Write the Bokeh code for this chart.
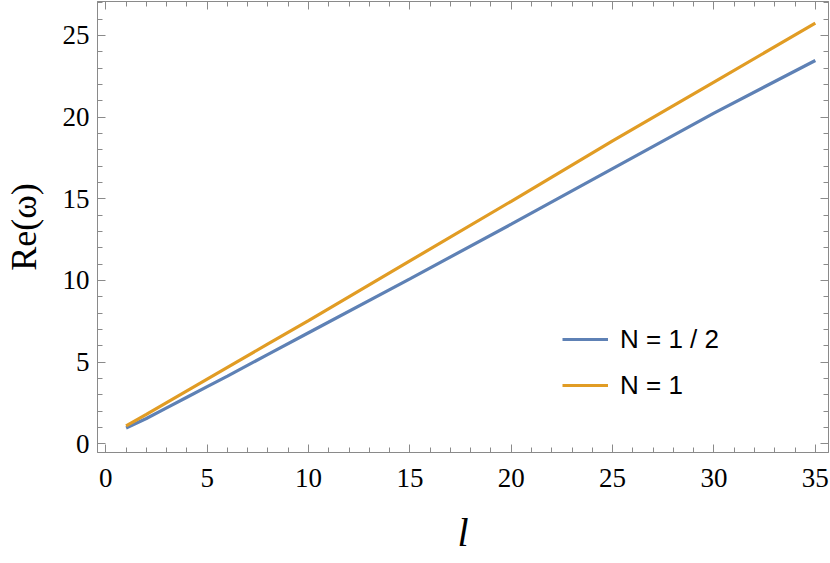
from bokeh.plotting import figure
from bokeh.models import (LinearAxis, SingleIntervalTicker, Range1d, Legend, LegendItem,
                          CustomJSTickFormatter)
from bokeh.embed import file_html
from bokeh.resources import INLINE

# data
l_vals = [1, 2, 3, 4, 5, 6, 8, 10, 15, 20, 25, 30, 35]
re_half = [0.97, 1.55, 2.20, 2.85, 3.50, 4.15, 5.48, 6.80, 10.10, 13.45, 16.85, 20.25, 23.47]
re_one = [1.10, 1.80, 2.52, 3.24, 3.96, 4.68, 6.12, 7.55, 11.20, 14.85, 18.55, 22.15, 25.75]
labels = ["N = 1 / 2", "N = 1"]
colors = ["#5E81B5", "#E19C24"]

FRAME = "#8a8a8a"
SERIF = "'Liberation Serif', 'Times New Roman', Times, serif"

p = figure(width=830, height=563, output_backend="svg", toolbar_location=None,
           x_range=Range1d(-0.41, 35.65), y_range=Range1d(-0.53, 27.08),
           x_axis_location=None, y_axis_location=None,
           min_border_left=97, min_border_right=2, min_border_top=1, min_border_bottom=111)
p.outline_line_color = FRAME
p.xgrid.visible = False
p.ygrid.visible = False
p.background_fill_color = "white"
p.border_fill_color = "white"

def make_axis(show_labels):
    ax = LinearAxis(ticker=SingleIntervalTicker(interval=5, num_minor_ticks=5))
    ax.axis_line_color = FRAME
    ax.major_tick_line_color = FRAME
    ax.minor_tick_line_color = FRAME
    ax.major_tick_in = 8
    ax.major_tick_out = 0
    ax.minor_tick_in = 5
    ax.minor_tick_out = 0
    if show_labels:
        ax.major_label_text_font = SERIF
        ax.major_label_text_font_size = "27px"
        ax.major_label_text_color = "black"
    else:
        ax.formatter = CustomJSTickFormatter(code="return '';")
        ax.major_label_standoff = 0
        ax.major_label_text_font_size = "1px"
    return ax

xb = make_axis(True)
xb.major_label_standoff = 16
xb.axis_label = "l"
xb.axis_label_text_font = SERIF
xb.axis_label_text_font_style = "italic"
xb.axis_label_text_font_size = "40px"
xb.axis_label_text_color = "black"
xb.axis_label_standoff = 20
p.add_layout(xb, "below")

yl = make_axis(True)
yl.major_label_standoff = 8
yl.axis_label = "Re(ω)"
yl.axis_label_text_font = SERIF
yl.axis_label_text_font_style = "normal"
yl.axis_label_text_font_size = "36px"
yl.axis_label_text_color = "black"
yl.axis_label_standoff = 16
p.add_layout(yl, "left")

xt = make_axis(False)
p.add_layout(xt, "above")
yr = make_axis(False)
p.add_layout(yr, "right")

r1 = p.line(l_vals, re_half, line_color=colors[0], line_width=3.2)
r2 = p.line(l_vals, re_one, line_color=colors[1], line_width=3.2)

legend = Legend(items=[LegendItem(label=labels[0], renderers=[r1]),
                       LegendItem(label=labels[1], renderers=[r2])],
                location=(465, 44))
legend.background_fill_alpha = 0
legend.border_line_color = None
legend.padding = 0
legend.margin = 0
legend.spacing = 0
legend.glyph_width = 46
legend.glyph_height = 46
legend.label_standoff = 12
legend.label_text_font = "'Liberation Sans', Arial, sans-serif"
legend.label_text_font_size = "26px"
legend.label_text_color = "black"
legend.label_height = 46
p.add_layout(legend, "center")

open("out.html", "w").write(file_html(p, INLINE))
